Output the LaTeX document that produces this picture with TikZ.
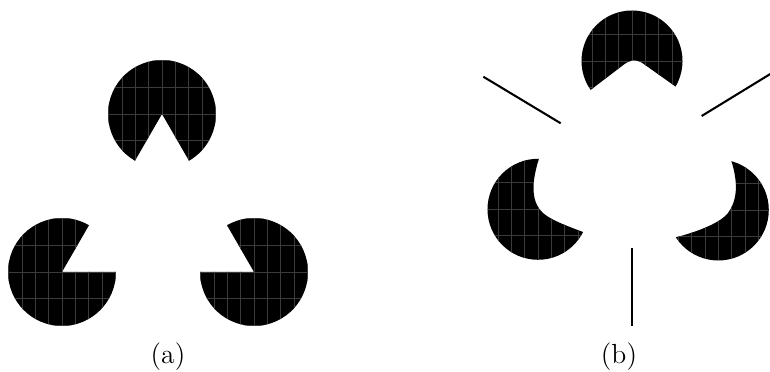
\documentclass[tikz,border=0pt]{standalone}
\begin{document}
\tikzset{
  gridline/.style={draw=black!77, line width=0.4pt},
  kline/.style={draw=black, line width=0.9pt},
  pac/.style={fill=black},
  caption/.style={anchor=base, font=\fontsize{12}{14}\selectfont}
}
\newcommand{\kgrid}[3]{%
    \foreach \k in {-5,...,5} {
      \draw[gridline] ({#1+\k*13.333},{#2-#3-2}) -- ({#1+\k*13.333},{#2+#3+2});
    }
    \foreach \k in {-3,...,3} {
      \draw[gridline] ({#1-#3-2},{#2+\k*26.667}) -- ({#1+#3+2},{#2+\k*26.667});
    }}
\begin{tikzpicture}[x=0.435pt, y=-0.435pt]
\clip (0,0) rectangle (770,372);
\fill[white] (0,0) rectangle (770,372);
% ---------- (a) ----------
\coordinate (ta) at (162,114);
\coordinate (la) at (62,272);
\coordinate (ra) at (254,272);
\begin{scope}
  \clip (ta) -- ++(120:54) arc[start angle=120, end angle=420, radius=54] -- cycle;
  \fill[pac] (ta) circle[radius=60];
  \kgrid{162}{114}{54}
\end{scope}
\begin{scope}
  \clip (la) -- ++(0:54) arc[start angle=0, end angle=300, radius=54] -- cycle;
  \fill[pac] (la) circle[radius=60];
  \kgrid{62}{272}{54}
\end{scope}
\begin{scope}
  \clip (ra) -- ++(240:54) arc[start angle=240, end angle=540, radius=54] -- cycle;
  \fill[pac] (ra) circle[radius=60];
  \kgrid{254}{272}{54}
\end{scope}
\node[caption] (capa) at (168,363.5) {(a)};
% ---------- (b) ----------
\coordinate (tb) at (632,61);
\coordinate (lb) at (538,209.3);
\coordinate (rb) at (718.3,210);
\begin{scope}[even odd rule]
  \clip (tb) circle[radius=50.5];
  \clip (-10,-10) rectangle (790,390)
    (580,98) -- (622,66) .. controls (630,59.5) and (636,58.5) .. (643,63.5) -- (686,94) -- (690,125) -- (575,125) -- cycle;
  \fill[pac] (tb) circle[radius=56];
  \kgrid{632}{61}{50.5}
\end{scope}
\begin{scope}[even odd rule]
  \clip (lb) circle[radius=50.5];
  \clip (-10,-10) rectangle (790,390)
    (543,146) .. controls (534,172) and (528,196) .. (541,211) .. controls (548,219) and (565,225.5) .. (594,236) -- (600,240) -- (605,140) -- cycle;
  \fill[pac] (lb) circle[radius=56];
  \kgrid{538}{209.3}{50.5}
\end{scope}
\begin{scope}[even odd rule]
  \clip (rb) circle[radius=50.5];
  \clip (-10,-10) rectangle (790,390)
    (727,148) .. controls (736,172) and (741,195) .. (728,213) .. controls (721,222) and (700,232) .. (665,240) -- (660,245) -- (655,140) -- cycle;
  \fill[pac] (rb) circle[radius=56];
  \kgrid{718.3}{210}{50.5}
\end{scope}
\coordinate (l1a) at (483.3,76.7);
\coordinate (l1b) at (560.7,123.3);
\coordinate (l2a) at (701.7,116);
\coordinate (l2b) at (785,65);
\coordinate (l3a) at (631.7,248.3);
\coordinate (l3b) at (631.7,325.7);
\draw[kline] (l1a) -- (l1b);
\draw[kline] (l2a) -- (l2b);
\draw[kline] (l3a) -- (l3b);
\node[caption] (capb) at (619,363.5) {(b)};
\end{tikzpicture}
\end{document}
